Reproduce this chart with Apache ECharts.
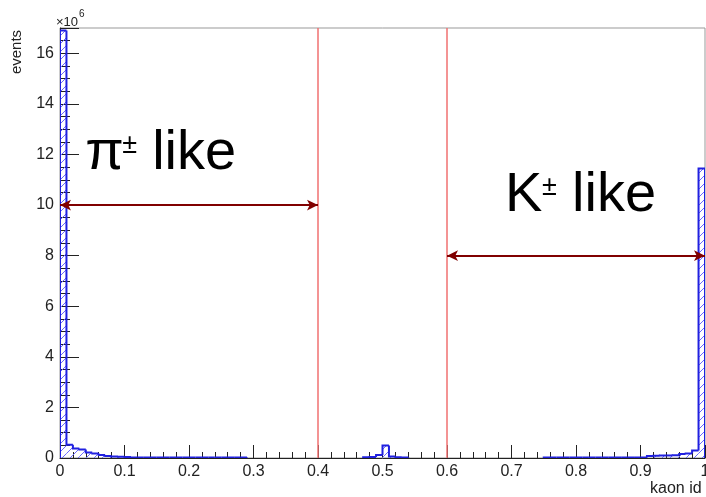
<!DOCTYPE html>
<html><head><meta charset="utf-8">
<script src="https://cdn.jsdelivr.net/npm/echarts@6.0.0/dist/echarts.min.js"></script>
<style>html,body{margin:0;padding:0;background:#fff}#c{width:706px;height:497px}</style>
</head><body><div id="c"></div>
<script>
// ---- data (events per bin, in units of 10^6; null = empty bin) ----
const binWidth = 0.01;
const counts = [
  16.9, 0.52, 0.38, 0.34, 0.22, 0.18, 0.12, 0.08, 0.06, 0.05,
  0.04, 0.02, 0.02, 0.02, 0.02, 0.02, 0.02, 0.02, 0.02, 0.02,
  0.02, 0.02, 0.02, 0.02, 0.02, 0.02, 0.02, 0.02, 0.02, null,
  null, null, null, null, null, null, null, null, null, null,
  null, null, null, null, null, null, null, 0.03, 0.04, 0.12,
  0.49, 0.06, 0.03, 0.02, null, null, null, null, null, null,
  null, null, null, null, null, null, null, null, null, null,
  null, null, null, null, null, 0.02, 0.02, 0.02, 0.02, 0.02,
  0.02, 0.02, 0.02, 0.02, 0.02, 0.02, 0.02, 0.02, 0.02, 0.02,
  0.02, 0.08, 0.09, 0.10, 0.10, 0.11, 0.16, 0.18, 0.30, 11.45
];
const xRange = [0, 1];
const yRange = [0, 17];
const cutValues = [0.4, 0.6];
const piArrow = [[0, 10], [0.4, 10]];
const kArrow = [[0.6, 8], [1, 8]];
const annotations = [
  { main: 'π', sup: '±', rest: 'like', x: 0.039, y: 11.26 },
  { main: 'K', sup: '±', rest: 'like', x: 0.69, y: 9.6 }
];
const xTitle = 'kaon id';
const yTitle = 'events';

// ---- hatch pattern ----
function hatch() {
  const c = document.createElement('canvas');
  c.width = 8; c.height = 8;
  const g = c.getContext('2d');
  g.strokeStyle = '#6a6aff'; g.lineWidth = 1;
  g.beginPath();
  g.moveTo(0, 8); g.lineTo(8, 0);
  g.moveTo(-2, 2); g.lineTo(2, -2);
  g.moveTo(6, 10); g.lineTo(10, 6);
  g.stroke();
  return c;
}
const pattern = { image: hatch(), repeat: 'repeat' };

const binData = [];
counts.forEach((v, i) => { if (v !== null) binData.push([i * binWidth, (i + 1) * binWidth, v, i]); });

const outline = '#2020e0';
function renderBin(params, api) {
  const x0 = api.value(0), x1 = api.value(1), v = api.value(2), i = api.value(3);
  const prev = (i > 0 && counts[i - 1] !== null) ? counts[i - 1] : 0;
  const next = (i < counts.length - 1 && counts[i + 1] !== null) ? counts[i + 1] : null;
  const pTL = api.coord([x0, v]);
  const pBR = api.coord([x1, 0]);
  const pPrev = api.coord([x0, prev]);
  const pTR = api.coord([x1, v]);
  const children = [
    { type: 'rect', shape: { x: pTL[0], y: pTL[1], width: pBR[0] - pTL[0], height: pBR[1] - pTL[1] },
      style: { fill: pattern, stroke: null } },
    { type: 'polyline', shape: { points: [pPrev, pTL, pTR] },
      style: { stroke: outline, lineWidth: 2, fill: null } }
  ];
  if (next === null) {
    children.push({ type: 'line', shape: { x1: pTR[0], y1: pTR[1], x2: pBR[0], y2: pBR[1] },
      style: { stroke: outline, lineWidth: 2 } });
  }
  return { type: 'group', children };
}

const chart = echarts.init(document.getElementById('c'));
const axisColor = '#222';
const option = {
  animation: false,
  backgroundColor: '#fff',
  grid: { left: 60, right: 1, top: 28, bottom: 39, containLabel: false, outerBoundsMode: 'none',
    show: true, borderColor: '#999', borderWidth: 1, backgroundColor: 'transparent' },
  xAxis: {
    type: 'value', min: xRange[0], max: xRange[1], interval: 0.1,
    axisLine: { show: true, lineStyle: { color: axisColor, width: 1 } },
    axisTick: { show: true, inside: true, length: 13, lineStyle: { color: axisColor } },
    minorTick: { show: true, splitNumber: 5, length: 6, lineStyle: { color: axisColor } },
    axisLabel: { color: '#222', fontSize: 16, fontFamily: 'Liberation Sans', margin: 6 },
    splitLine: { show: false }
  },
  yAxis: {
    type: 'value', min: yRange[0], max: yRange[1], interval: 2,
    axisLine: { show: true, lineStyle: { color: axisColor, width: 1 } },
    axisTick: { show: true, inside: true, length: 19, lineStyle: { color: axisColor } },
    minorTick: { show: true, splitNumber: 4, length: 10, lineStyle: { color: axisColor } },
    axisLabel: { color: '#222', fontSize: 16, fontFamily: 'Liberation Sans', margin: 6, showMaxLabel: false },
    splitLine: { show: false }
  },
  series: [
    { type: 'custom', renderItem: renderBin, data: binData, clip: true, z: 3, silent: true,
      encode: { x: [0, 1], y: 2 } },
    { type: 'line', data: [], silent: true, z: 4,
      markLine: { silent: true, symbol: ['none', 'none'], label: { show: false },
        lineStyle: { color: '#f07070', width: 1.5, type: 'solid', opacity: 1 },
        emphasis: { disabled: true },
        data: cutValues.map(v => ({ xAxis: v, lineStyle: { color: '#f07070', width: 1.5, type: 'solid' } })) } },
    { type: 'line', data: [], silent: true, z: 5,
      markLine: { silent: true, symbol: ['arrow', 'arrow'], symbolSize: [8, 11], label: { show: false },
        lineStyle: { color: '#800000', width: 2, type: 'solid' },
        emphasis: { disabled: true },
        data: [
          [{ coord: piArrow[0] }, { coord: piArrow[1] }],
          [{ coord: kArrow[0] }, { coord: kArrow[1] }]
        ] } }
  ]
};
chart.setOption(option);

const bigFs = 56, supFs = 27;
const gfx = [
  { type: 'text', id: 'exp1', style: { text: '×10', x: 56, y: 22, font: '13px "Liberation Sans"', fill: '#222', verticalAlign: 'middle' } },
  { type: 'text', id: 'exp2', style: { text: '6', x: 79, y: 14, font: '10px "Liberation Sans"', fill: '#222', verticalAlign: 'middle' } },
  { type: 'text', id: 'ytitle', x: 17, y: 52, rotation: Math.PI / 2,
    style: { text: yTitle, x: 0, y: 0, font: '15px "Liberation Sans"', fill: '#222', align: 'center', verticalAlign: 'middle' } },
  { type: 'text', id: 'xtitle', style: { text: xTitle, x: 650, y: 489, font: '16px "Liberation Sans"', fill: '#222', verticalAlign: 'middle' } }
];
annotations.forEach((a, k) => {
  const p = chart.convertToPixel({ gridIndex: 0 }, [a.x, a.y]);
  const base = p[1];
  gfx.push({ type: 'text', id: 'm' + k, style: { text: a.main, x: p[0], y: base - 0.35 * bigFs,
    font: bigFs + 'px "Liberation Sans"', fill: '#000', verticalAlign: 'middle' } });
  gfx.push({ type: 'text', id: 's' + k, style: { text: a.sup, x: p[0] + 37, y: base - 18 - 0.35 * supFs,
    font: supFs + 'px "Liberation Sans"', fill: '#000', verticalAlign: 'middle' } });
  gfx.push({ type: 'text', id: 'r' + k, style: { text: a.rest, x: p[0] + 67, y: base - 0.35 * bigFs,
    font: bigFs + 'px "Liberation Sans"', fill: '#000', verticalAlign: 'middle' } });
});
chart.setOption({ graphic: gfx });
</script>
</body></html>
